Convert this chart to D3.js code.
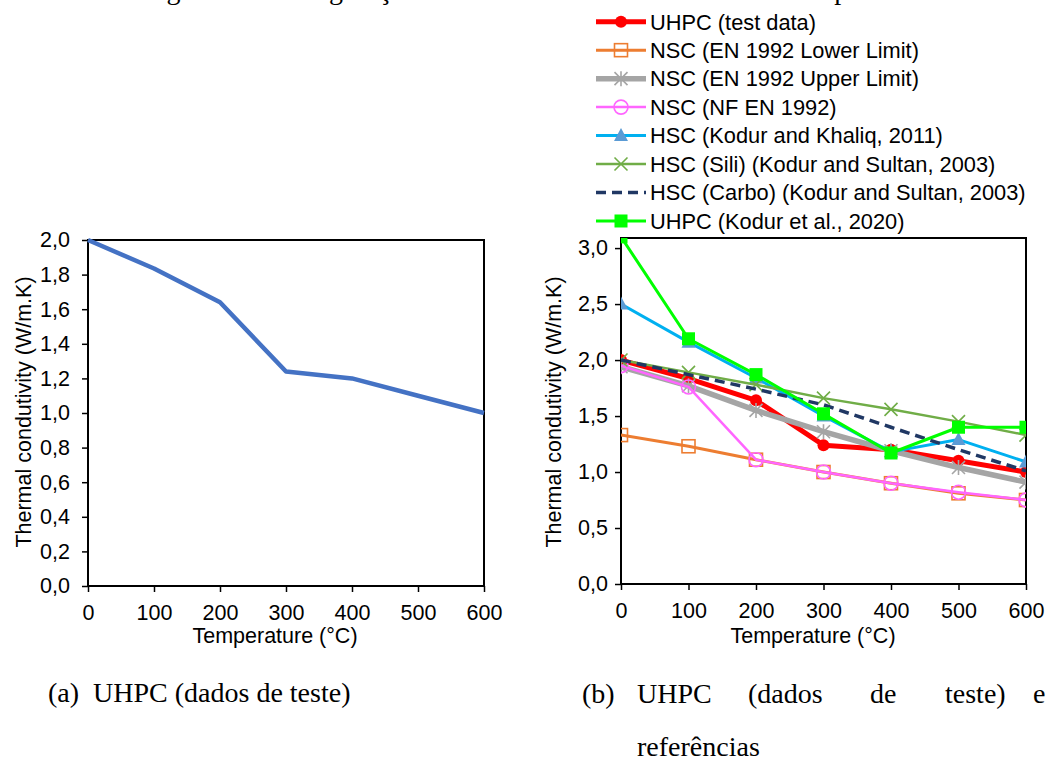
<html>
<head>
<script src="https://d3js.org/d3.v7.min.js"></script>
<style>
body { margin: 0; background: #fff; }
text { font-family: Arial, "Liberation Sans", sans-serif; fill: #000; }
.serif { font-family: "Times New Roman", "Liberation Serif", serif; }
</style>
</head>
<body>
<script>
// temperatures (°C) shared by both charts
const temps = [0, 100, 200, 300, 400, 500, 600];

// chart (a): UHPC test data
const uhpcTest = [2.0, 1.835, 1.64, 1.24, 1.2, 1.1, 1.0];

// chart (b): references
const nscLower = [1.33, 1.23, 1.11, 1.0, 0.9, 0.81, 0.75];
const nscUpper = [1.94, 1.77, 1.55, 1.36, 1.19, 1.04, 0.91];
const nscNF = [1.95, 1.76, 1.11, 1.0, 0.9, 0.82, 0.75];
const hscKhaliq = [2.5, 2.16, 1.84, 1.5, 1.18, 1.29, 1.09];
const hscSili = [2.0, 1.89, 1.78, 1.66, 1.56, 1.45, 1.33];
const hscCarbo = [2.0, 1.87, 1.74, 1.6, 1.4, 1.2, 1.01];
const uhpcKodur = [3.1, 2.19, 1.87, 1.52, 1.17, 1.4, 1.4];

const seriesNames = [
    "UHPC (test data)",
    "NSC (EN 1992 Lower Limit)",
    "NSC (EN 1992 Upper Limit)",
    "NSC (NF EN 1992)",
    "HSC (Kodur and Khaliq, 2011)",
    "HSC (Sili) (Kodur and Sultan, 2003)",
    "HSC (Carbo) (Kodur and Sultan, 2003)",
    "UHPC (Kodur et al., 2020)"
];
const seriesValues = [uhpcTest, nscLower, nscUpper, nscNF, hscKhaliq, hscSili, hscCarbo, uhpcKodur];

const xTicks = [0, 100, 200, 300, 400, 500, 600];
const yTicksA = [0, 0.2, 0.4, 0.6, 0.8, 1.0, 1.2, 1.4, 1.6, 1.8, 2.0];
const yTicksB = [0, 0.5, 1.0, 1.5, 2.0, 2.5, 3.0];

// look of each series in chart (b)
const styles = [
    {line: "#ff0000", w: 5, marker: "circle", mc: "#ff0000"},
    {line: "#ed7d31", w: 3, marker: "squareOpen", mc: "#ed7d31"},
    {line: "#a5a5a5", w: 5.5, marker: "asterisk", mc: "#a5a5a5"},
    {line: "#ff66ff", w: 2.5, marker: "circleOpen", mc: "#ff66ff"},
    {line: "#00b0f0", w: 3, marker: "triangle", mc: "#5b9bd5"},
    {line: "#70ad47", w: 2.5, marker: "cross", mc: "#70ad47"},
    {line: "#203864", w: 3.5, marker: "none", mc: "#203864", dash: "10,6"},
    {line: "#00ff00", w: 3, marker: "square", mc: "#00ff00"}
];

const comma = d => d3.format(".1f")(d).replace(".", ",");

let svg = d3.select("body").append("svg")
    .attr("width", 1056).attr("height", 761);

// caption cut off at the top of the page
svg.append("text").attr("class", "serif")
    .attr("x", 540).attr("y", -1)
    .attr("text-anchor", "middle")
    .style("font-size", "28px")
    .text("Figura 5 – Configuração da condutividade térmica a altas temperaturas");

function drawMarker(g, type, x, y, c) {
    if (type == "circle") {
        g.append("circle").attr("cx", x).attr("cy", y).attr("r", 6).attr("fill", c);
    } else if (type == "circleOpen") {
        g.append("circle").attr("cx", x).attr("cy", y).attr("r", 7)
            .attr("fill", "none").attr("stroke", c).attr("stroke-width", 1.6);
    } else if (type == "squareOpen") {
        g.append("rect").attr("x", x - 6.5).attr("y", y - 6.5).attr("width", 13).attr("height", 13)
            .attr("fill", "none").attr("stroke", c).attr("stroke-width", 1.6);
    } else if (type == "square") {
        g.append("rect").attr("x", x - 6.5).attr("y", y - 6.5).attr("width", 13).attr("height", 13)
            .attr("fill", c);
    } else if (type == "triangle") {
        g.append("path").attr("d", `M${x},${y - 7.5}L${x + 7},${y + 5.5}L${x - 7},${y + 5.5}Z`)
            .attr("fill", c);
    } else if (type == "cross") {
        g.append("path").attr("d", `M${x - 6.5},${y - 6.5}L${x + 6.5},${y + 6.5}M${x - 6.5},${y + 6.5}L${x + 6.5},${y - 6.5}`)
            .attr("stroke", c).attr("stroke-width", 1.6);
    } else if (type == "asterisk") {
        g.append("path").attr("d", `M${x - 6.5},${y - 6.5}L${x + 6.5},${y + 6.5}M${x - 6.5},${y + 6.5}L${x + 6.5},${y - 6.5}M${x},${y - 7.5}L${x},${y + 7.5}`)
            .attr("stroke", c).attr("stroke-width", 1.6);
    }
}

function drawFrame(opts) {
    let x = d3.scaleLinear().domain([0, 600]).range([opts.left, opts.right]);
    let y = d3.scaleLinear().domain([0, opts.ymax]).range([opts.bottom, opts.top]);

    let xAxis = svg.append("g")
        .attr("transform", `translate(0, ${opts.bottom})`)
        .call(d3.axisBottom(x).tickValues(xTicks).tickSize(6).tickSizeOuter(0).tickPadding(13));
    let yAxis = svg.append("g")
        .attr("transform", `translate(${opts.left}, 0)`)
        .call(d3.axisLeft(y).tickValues(opts.yticks).tickFormat(comma).tickSize(6).tickSizeOuter(0).tickPadding(opts.ypad));
    [xAxis, yAxis].forEach(a => {
        a.select(".domain").remove();
        a.selectAll("line").attr("stroke", "#000").attr("stroke-width", 1.5);
        a.selectAll("text").style("font-size", "21.5px").attr("fill", "#000");
    });

    svg.append("rect")
        .attr("x", opts.left).attr("y", opts.top)
        .attr("width", opts.right - opts.left).attr("height", opts.bottom - opts.top)
        .attr("fill", "none").attr("stroke", "#000").attr("stroke-width", 2);

    svg.append("text")
        .attr("x", opts.xTitleX).attr("y", 643)
        .attr("text-anchor", "middle").style("font-size", "21.5px")
        .text("Temperature (°C)");
    svg.append("text")
        .attr("transform", `translate(${opts.yTitleX}, 412) rotate(-90)`)
        .attr("text-anchor", "middle").attr("dy", "0.35em").style("font-size", "21.5px")
        .text("Thermal condutivity (W/m.K)");
    return {x, y};
}

// ---- chart (a)
let a = drawFrame({left: 88, right: 484, top: 240, bottom: 586, ymax: 2.0,
    yticks: yTicksA, ypad: 12, xTitleX: 275, yTitleX: 23});
let lineA = d3.line().x((d, i) => a.x(temps[i])).y(d => a.y(d));
svg.append("path").datum(uhpcTest)
    .attr("d", lineA)
    .attr("fill", "none").attr("stroke", "#4472c4").attr("stroke-width", 4.5)
    .attr("stroke-linejoin", "round");

// ---- chart (b)
let b = drawFrame({left: 621, right: 1026, top: 238, bottom: 584, ymax: 3.09,
    yticks: yTicksB, ypad: 7, xTitleX: 813, yTitleX: 553});

svg.append("clipPath").attr("id", "clipB")
    .append("rect").attr("x", 621).attr("y", 238).attr("width", 405).attr("height", 346);

let plotB = svg.append("g").attr("clip-path", "url(#clipB)");
let lineB = d3.line().x((d, i) => b.x(temps[i])).y(d => b.y(d));

seriesValues.forEach((vals, k) => {
    let s = styles[k];
    let g = plotB.append("g");
    g.append("path").datum(vals)
        .attr("d", lineB)
        .attr("fill", "none").attr("stroke", s.line).attr("stroke-width", s.w)
        .attr("stroke-dasharray", s.dash || null)
        .attr("stroke-linejoin", "round");
    vals.forEach((v, i) => drawMarker(g, s.marker, b.x(temps[i]), b.y(v), s.mc));
});

// legend
let legend = svg.append("g");
seriesNames.forEach((name, k) => {
    let s = styles[k];
    let cy = 21.7 + k * 28.47;
    legend.append("line")
        .attr("x1", 596).attr("x2", 646).attr("y1", cy).attr("y2", cy)
        .attr("stroke", s.line).attr("stroke-width", s.w)
        .attr("stroke-dasharray", s.dash || null);
    drawMarker(legend, s.marker, 621, cy, s.mc);
    legend.append("text")
        .attr("x", 650).attr("y", cy).attr("dy", "0.36em")
        .style("font-size", "21.8px")
        .text(name);
});

// captions under the charts
svg.append("text").attr("class", "serif")
    .attr("x", 48).attr("y", 702).style("font-size", "28px")
    .attr("xml:space", "preserve")
    .text("(a)  UHPC (dados de teste)");

// justified caption (b): words placed across the line
const captionB = ["(b)", "UHPC", "(dados", "de", "teste)", "e"];
const captionBx = [582, 637, 748, 870, 945, 1033];
captionB.forEach((w, i) => {
    svg.append("text").attr("class", "serif")
        .attr("x", captionBx[i]).attr("y", 703).style("font-size", "28px")
        .text(w);
});
svg.append("text").attr("class", "serif")
    .attr("x", 637).attr("y", 756).style("font-size", "28px")
    .text("referências");
</script>
</body>
</html>
